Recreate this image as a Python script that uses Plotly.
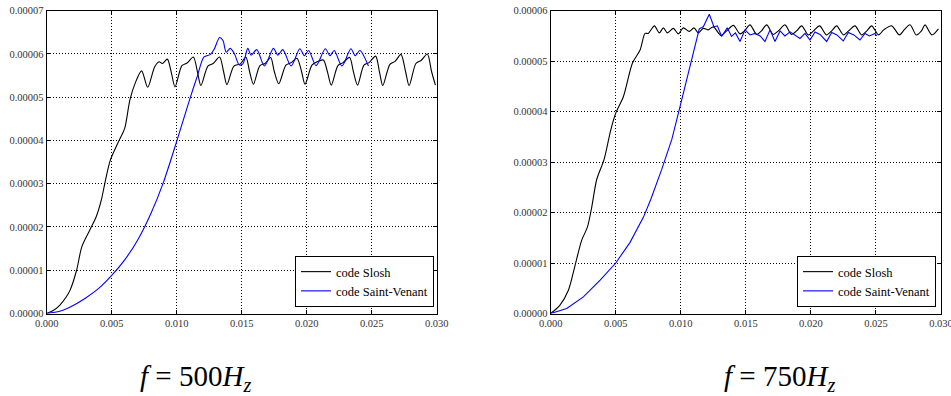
import plotly.graph_objects as go

FW, FH = 951, 396

def fx(px):
    return px / FW

def fy(py):
    return 1 - py / FH

SCALE = 1e-5

# ---------------- f = 500 Hz ----------------
slosh500_t = [0, 0.0005, 0.001, 0.0015, 0.0018, 0.0023, 0.0027, 0.0033, 0.0038, 0.0042,
              0.0045, 0.0049, 0.0056, 0.0060, 0.0064, 0.0068, 0.0073, 0.00777,
              0.0083, 0.00865, 0.0089, 0.00928, 0.0096, 0.00987,
              0.0104, 0.0108, 0.01128, 0.0116, 0.01186,
              0.0124, 0.0128, 0.0133, 0.0136, 0.01386,
              0.0144, 0.0149, 0.01532, 0.0156, 0.0159,
              0.0164, 0.0168, 0.01723, 0.0175, 0.01785,
              0.0184, 0.0188, 0.01925, 0.0196, 0.01987,
              0.0204, 0.0208, 0.02128, 0.0216, 0.02189,
              0.0224, 0.0228, 0.0233, 0.0236, 0.02391,
              0.0244, 0.0248, 0.0253, 0.0256, 0.02585,
              0.0264, 0.0268, 0.02725, 0.0276, 0.02788,
              0.0284, 0.0288, 0.02928, 0.0296, 0.0299]
slosh500_y = [0, 0.07, 0.19, 0.38, 0.54, 1.0, 1.54, 1.92, 2.23, 2.62,
              3.05, 3.55, 4.02, 4.28, 4.94, 5.32, 5.61, 5.23,
              5.70, 5.82, 5.78, 5.88, 5.55, 5.24,
              5.73, 5.79, 5.93, 5.58, 5.27,
              5.72, 5.78, 5.93, 5.60, 5.29,
              5.72, 5.77, 5.93, 5.60, 5.30,
              5.73, 5.78, 5.92, 5.60, 5.31,
              5.74, 5.80, 5.90, 5.60, 5.30,
              5.74, 5.82, 5.86, 5.58, 5.28,
              5.73, 5.80, 5.92, 5.58, 5.28,
              5.74, 5.80, 5.95, 5.58, 5.27,
              5.76, 5.83, 5.99, 5.60, 5.27,
              5.78, 5.85, 6.00, 5.60, 5.28]

sv500_t = [0, 0.001, 0.002, 0.003, 0.004, 0.005, 0.006, 0.007, 0.008, 0.009,
           0.010, 0.011, 0.0116, 0.0121, 0.0126, 0.0129, 0.0133, 0.01356,
           0.01381, 0.01412, 0.01445, 0.0148, 0.01509, 0.01547, 0.01572, 0.01616, 0.01675,
           0.01744, 0.01778, 0.01816, 0.0188, 0.01947, 0.01982, 0.02015, 0.02072,
           0.02143, 0.02179, 0.02212, 0.02271, 0.0234, 0.02373, 0.02409, 0.02475]
sv500_y = [0, 0.05, 0.18, 0.36, 0.58, 0.88, 1.24, 1.70, 2.30, 3.05,
           3.98, 4.95, 5.50, 5.93, 5.99, 6.12, 6.38, 6.31,
           6.04, 6.13, 6.0, 5.75, 5.77, 6.13, 5.97, 6.1, 5.72,
           6.13, 5.97, 6.1, 5.72, 6.12, 5.96, 6.08, 5.73,
           6.12, 5.96, 6.08, 5.72, 6.12, 5.96, 6.08, 5.72]

# ---------------- f = 750 Hz ----------------
slosh750_t = [0, 0.0007, 0.00136, 0.00187, 0.00238, 0.00282, 0.00315, 0.00354, 0.0041, 0.00462,
              0.005, 0.00559, 0.00628, 0.00687, 0.00725, 0.0075, 0.00797, 0.00835, 0.00866, 0.00897,
              0.00943, 0.00981, 0.01019, 0.01065, 0.01101, 0.01135, 0.01173, 0.0121, 0.0125, 0.01309,
              0.01353, 0.01404, 0.01455, 0.0149, 0.01532, 0.01583, 0.0162, 0.0166, 0.0171, 0.0175,
              0.01801, 0.0185, 0.0189, 0.01929, 0.0198, 0.0202, 0.02067, 0.0212, 0.0216, 0.02198,
              0.0225, 0.0229, 0.02339, 0.0239, 0.0243, 0.02467, 0.0252, 0.0256, 0.02621, 0.0268,
              0.0272, 0.02762, 0.0281, 0.0285, 0.02877, 0.0293, 0.0298]
slosh750_y = [0, 0.16, 0.46, 0.95, 1.45, 1.71, 2.1, 2.66, 3.05, 3.64,
              3.97, 4.3, 4.96, 5.22, 5.55, 5.55, 5.70, 5.56, 5.66, 5.56,
              5.65, 5.54, 5.66, 5.59, 5.66, 5.56, 5.65, 5.62, 5.68, 5.51,
              5.60, 5.71, 5.54, 5.60, 5.72, 5.53, 5.60, 5.72, 5.53, 5.60,
              5.72, 5.53, 5.60, 5.70, 5.52, 5.60, 5.70, 5.52, 5.60, 5.70,
              5.52, 5.60, 5.70, 5.52, 5.60, 5.70, 5.52, 5.62, 5.70, 5.52,
              5.63, 5.72, 5.52, 5.60, 5.72, 5.52, 5.64]

sv750_t = [0, 0.00123, 0.00251, 0.0038, 0.005, 0.0061, 0.00713, 0.00769, 0.00854, 0.00931,
           0.00995, 0.01046, 0.01097, 0.01142, 0.01173, 0.01219, 0.01255, 0.01281, 0.01314, 0.01357,
           0.0139, 0.0142, 0.01455, 0.01494, 0.01532, 0.0157, 0.0161, 0.01647, 0.01686, 0.01724,
           0.01763, 0.018, 0.0184, 0.01878, 0.01916, 0.01955, 0.01993, 0.02032, 0.0207, 0.02121,
           0.0216, 0.022, 0.02249, 0.02288, 0.0233, 0.02377, 0.02416, 0.0245, 0.02493, 0.02506]
sv750_y = [0, 0.1, 0.33, 0.66, 1.0, 1.41, 1.91, 2.26, 2.86, 3.45,
           4.11, 4.63, 5.18, 5.64, 5.68, 5.93, 5.68, 5.70, 5.49, 5.66,
           5.49, 5.56, 5.39, 5.62, 5.52, 5.55, 5.50, 5.39, 5.62, 5.39,
           5.60, 5.50, 5.58, 5.52, 5.45, 5.55, 5.42, 5.58, 5.53, 5.39,
           5.57, 5.52, 5.40, 5.57, 5.52, 5.42, 5.55, 5.50, 5.55, 5.50]

series_names = ["code Slosh", "code Saint-Venant"]
x_ticks = [0.0, 0.005, 0.010, 0.015, 0.020, 0.025, 0.030]
y_ticks_500 = [0, 1e-5, 2e-5, 3e-5, 4e-5, 5e-5, 6e-5, 7e-5]
y_ticks_750 = [0, 1e-5, 2e-5, 3e-5, 4e-5, 5e-5, 6e-5]
panel_labels = ["<i>f</i> = 500<i>H</i><sub><i>z</i></sub>",
                "<i>f</i> = 750<i>H</i><sub><i>z</i></sub>"]

fig = go.Figure()

def add(t, y, name, color, xa, ya, leg, shape):
    fig.add_trace(go.Scatter(
        x=t, y=[v * SCALE for v in y], mode="lines", name=name,
        line=dict(color=color, width=1.1, shape=shape,
                  smoothing=0.8 if shape == "spline" else None),
        xaxis=xa, yaxis=ya, legend=leg))

add(slosh500_t, slosh500_y, series_names[0], "black", "x", "y", "legend", "spline")
add(sv500_t, sv500_y, series_names[1], "#0000ff", "x", "y", "legend", "spline")
add(slosh750_t, slosh750_y, series_names[0], "black", "x2", "y2", "legend2", "spline")
add(sv750_t, sv750_y, series_names[1], "#0000ff", "x2", "y2", "legend2", "linear")

SERIF = "Liberation Serif, DejaVu Serif, serif"
tickfont = dict(family=SERIF, size=10.5, color="#333")
ydom = [fy(313.5), fy(10.7)]

common = dict(showline=True, mirror="allticks", linecolor="black", linewidth=1,
              ticks="inside", ticklen=4, tickcolor="black",
              showgrid=True, gridcolor="black", griddash="1px,2px", gridwidth=1,
              zeroline=False, tickfont=tickfont, automargin=False,
              ticklabeloverflow="allow")

def xaxis(dom, anchor):
    return dict(domain=dom, anchor=anchor, range=[0, 0.03], tickvals=x_ticks,
                tickformat=".3f", **common)

def yaxis(rng, tv, anchor):
    return dict(domain=ydom, anchor=anchor, range=rng, tickvals=tv,
                tickformat=".5f", **common)

legfont = dict(family=SERIF, size=12.5, color="black")

def legend(xr):
    return dict(x=fx(xr), y=fy(307), xanchor="right", yanchor="bottom",
                bgcolor="white", bordercolor="black", borderwidth=1, font=legfont,
                tracegroupgap=0, itemwidth=30)

fig.update_layout(
    width=FW, height=FH, margin=dict(l=0, r=0, t=0, b=0),
    paper_bgcolor="white", plot_bgcolor="white",
    xaxis=xaxis([fx(46.7), fx(436.7)], "y"),
    yaxis=yaxis([0, 7e-5], y_ticks_500, "x"),
    xaxis2=xaxis([fx(550.7), fx(941)], "y2"),
    yaxis2=yaxis([0, 6e-5], y_ticks_750, "x2"),
    legend=legend(434),
    legend2=legend(936),
    showlegend=True,
    annotations=[
        dict(text=panel_labels[0], x=fx(195), y=fy(378), xref="paper", yref="paper",
             xanchor="center", yanchor="middle", showarrow=False,
             font=dict(family=SERIF, size=29, color="black")),
        dict(text=panel_labels[1], x=fx(779), y=fy(378), xref="paper", yref="paper",
             xanchor="center", yanchor="middle", showarrow=False,
             font=dict(family=SERIF, size=29, color="black")),
    ],
)

fig.write_html("out.html", config={"displayModeBar": False},
               post_script="document.body.style.margin='0';document.body.style.overflow='hidden';")
